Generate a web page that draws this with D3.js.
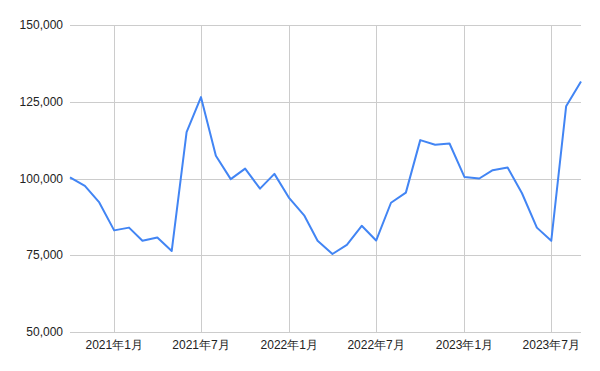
<!DOCTYPE html>
<html>
<head>
<meta charset="utf-8">
<script src="https://cdn.jsdelivr.net/npm/d3@7"></script>
<style>
  body { margin: 0; background: #fff; }
  text { font-family: "Liberation Sans", Arial, sans-serif; }
</style>
</head>
<body>
<svg width="600" height="371"></svg>
<script>
// monthly values, Oct 2020 .. Sep 2023
var months = [
  "2020-10", "2020-11", "2020-12",
  "2021-01", "2021-02", "2021-03", "2021-04", "2021-05", "2021-06",
  "2021-07", "2021-08", "2021-09", "2021-10", "2021-11", "2021-12",
  "2022-01", "2022-02", "2022-03", "2022-04", "2022-05", "2022-06",
  "2022-07", "2022-08", "2022-09", "2022-10", "2022-11", "2022-12",
  "2023-01", "2023-02", "2023-03", "2023-04", "2023-05", "2023-06",
  "2023-07", "2023-08", "2023-09"
];
var values = [
  100400, 97600, 92200,
  83100, 84000, 79700, 80800, 76400, 115100,
  126500, 107400, 99800, 103200, 96700, 101500,
  93600, 88000, 79700, 75400, 78400, 84600,
  79800, 92100, 95400, 112500, 111000, 111400,
  100500, 100000, 102700, 103600, 95200, 84000,
  79700, 123500, 131600
];
var yTicks = [50000, 75000, 100000, 125000, 150000];
var xTicks = ["2021-01", "2021-07", "2022-01", "2022-07", "2023-01", "2023-07"];

var parse = d3.timeParse("%Y-%m");
var data = months.map(function(m, i) { return { date: parse(m), value: values[i] }; });

var svg = d3.select("svg");
var plotL = 70, plotR = 581, plotT = 25, plotB = 332;

var x = d3.scaleTime()
  .domain([parse(months[0]), parse(months[months.length - 1])])
  .range([plotL, plotR]);

var y = d3.scaleLinear()
  .domain([50000, 150000])
  .range([plotB, plotT]);

var fmt = d3.format(",");

// horizontal grid
svg.append("g").selectAll("line")
    .data(yTicks)
  .enter().append("line")
    .attr("x1", plotL)
    .attr("x2", plotR)
    .attr("y1", d => Math.round(y(d)) + 0.5)
    .attr("y2", d => Math.round(y(d)) + 0.5)
    .style("stroke", "#cccccc")
    .style("stroke-width", "1px");

// vertical grid
svg.append("g").selectAll("line")
    .data(xTicks)
  .enter().append("line")
    .attr("x1", d => Math.round(x(parse(d))) + 0.5)
    .attr("x2", d => Math.round(x(parse(d))) + 0.5)
    .attr("y1", plotT)
    .attr("y2", plotB + 0.5)
    .style("stroke", "#cccccc")
    .style("stroke-width", "1px");

// y labels
svg.append("g").selectAll("text")
    .data(yTicks)
  .enter().append("text")
    .attr("x", 63)
    .attr("y", d => y(d))
    .attr("dy", "0.35em")
    .attr("text-anchor", "end")
    .style("font-size", "12px")
    .style("fill", "#222")
    .text(d => fmt(d));

// x labels
var xfmt = d3.timeFormat("%Y");
svg.append("g").selectAll("text")
    .data(xTicks)
  .enter().append("text")
    .attr("x", d => x(parse(d)))
    .attr("y", 349)
    .attr("text-anchor", "middle")
    .style("font-size", "12px")
    .style("fill", "#222")
    .text(d => { var dt = parse(d); return xfmt(dt) + "年" + (dt.getMonth() + 1) + "月"; });

var line = d3.line()
  .x(d => x(d.date))
  .y(d => y(d.value));

svg.append("path")
  .datum(data)
  .attr("d", line)
  .style("fill", "none")
  .style("stroke", "#4285f4")
  .style("stroke-width", "2px")
  .style("stroke-linejoin", "round");
</script>
</body>
</html>
